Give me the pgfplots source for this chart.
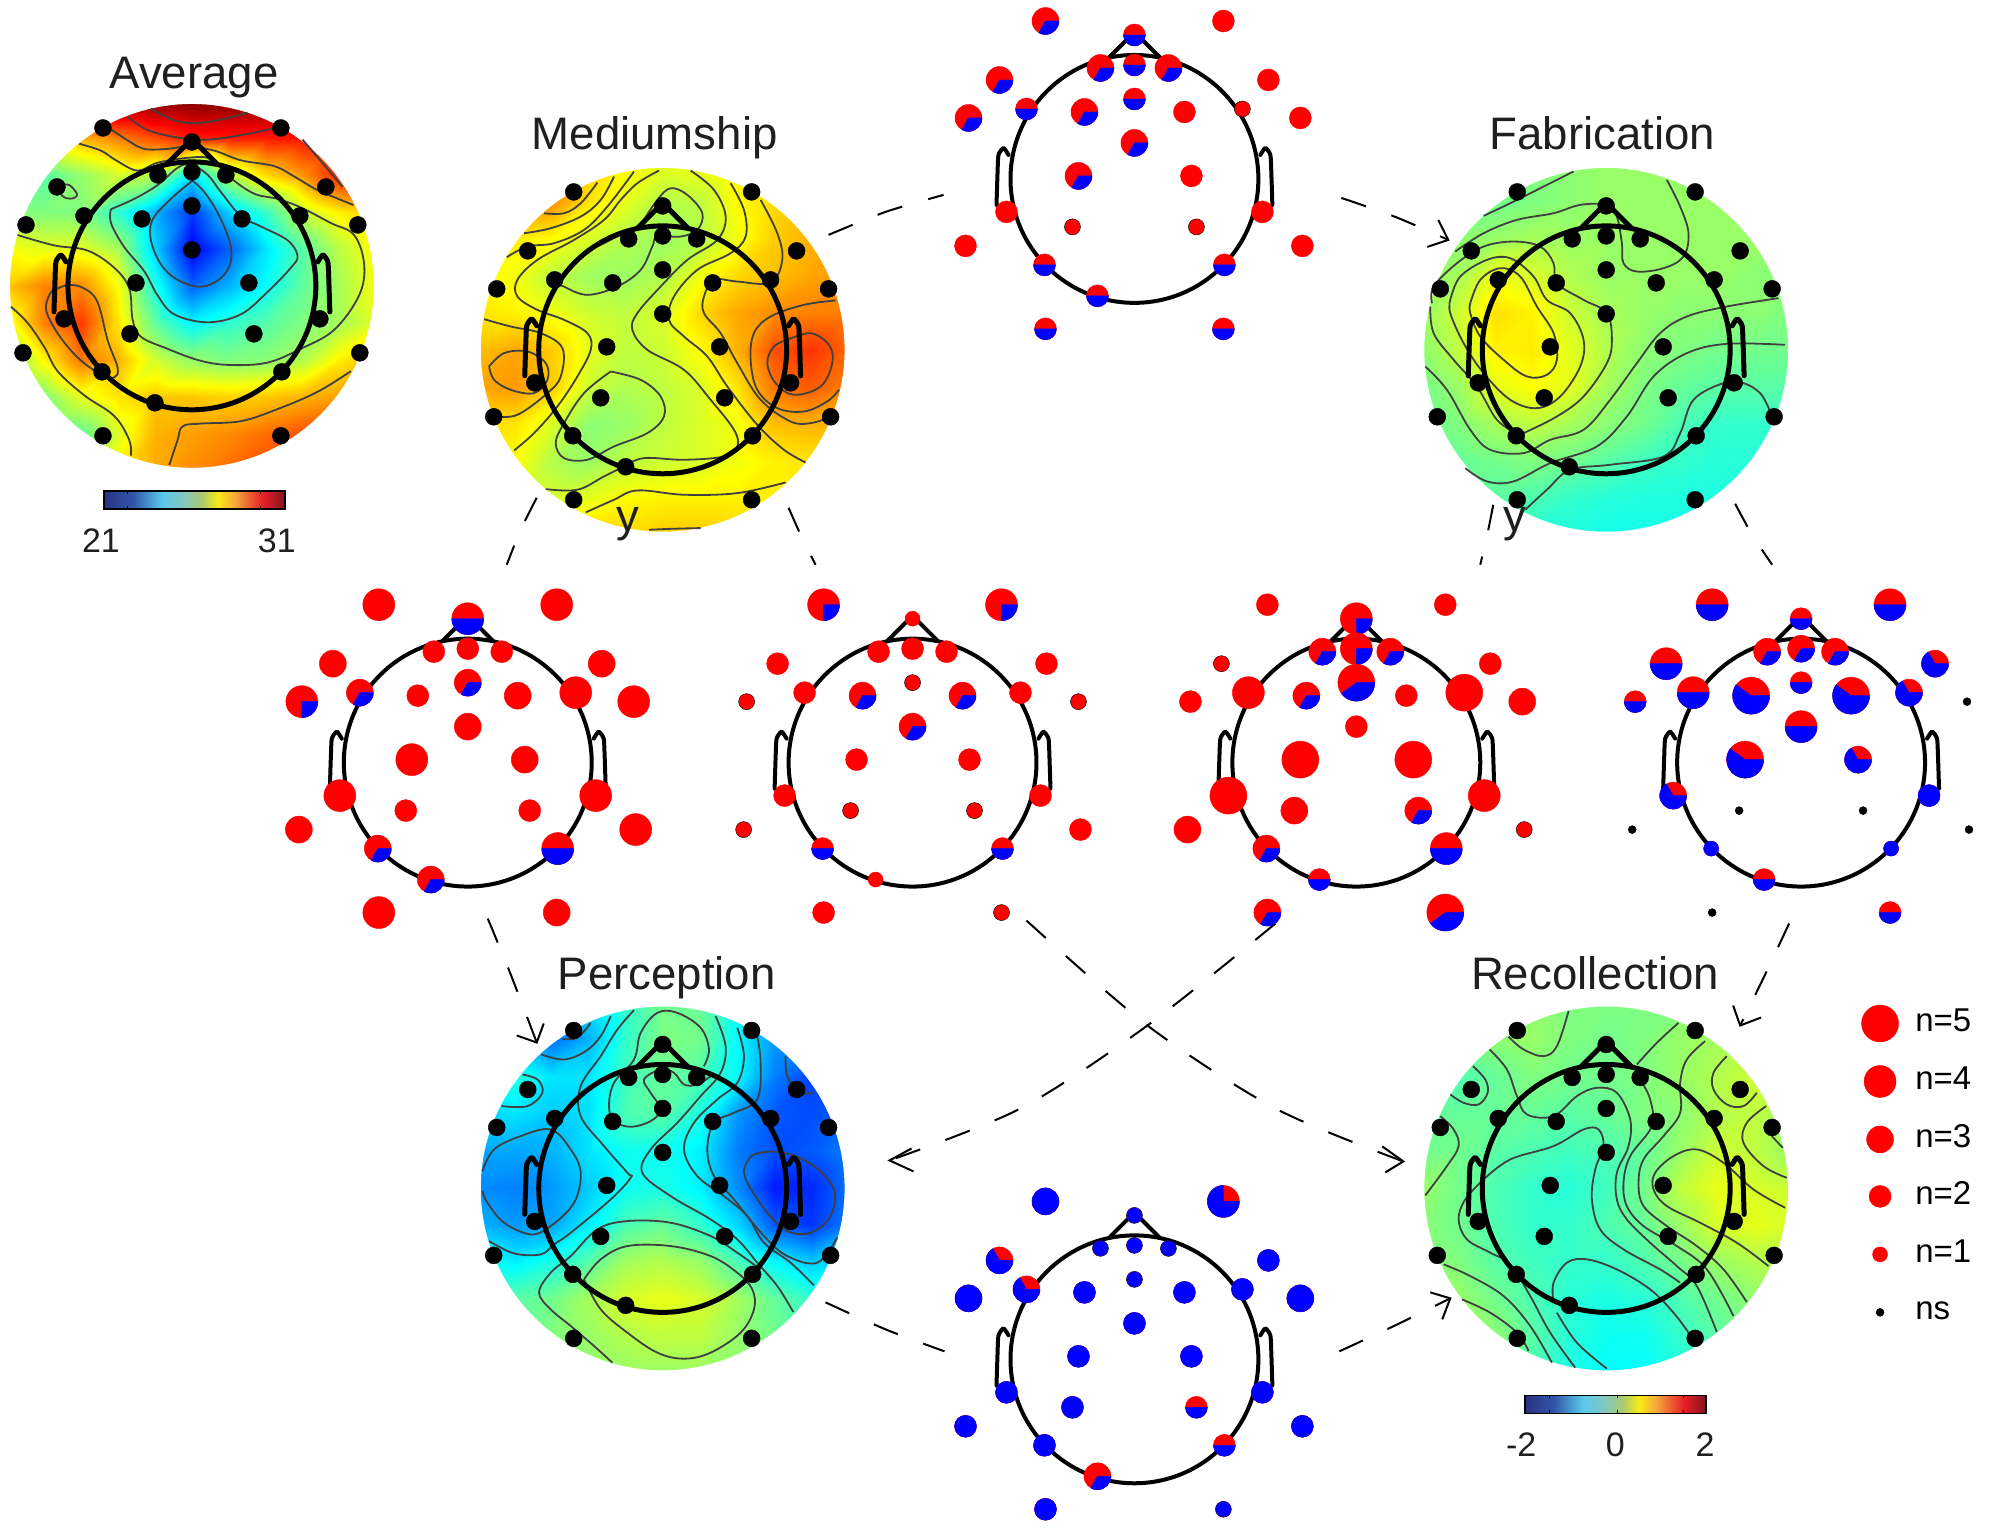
\documentclass[border=0pt]{standalone}
\usepackage{fontspec}
\setmainfont{Liberation Sans}
\usepackage{pgfplots}
\usepackage{pgfplotstable}
\pgfplotsset{compat=1.18}
\pgfplotsset{colormap={cbar}{
  rgb255(0cm)=(40,50,130) rgb255(16cm)=(50,85,170) rgb255(32cm)=(90,200,235)
  rgb255(44cm)=(130,200,190) rgb255(54cm)=(170,200,110) rgb255(63cm)=(250,235,20)
  rgb255(72cm)=(245,170,60) rgb255(81cm)=(235,90,50) rgb255(88cm)=(230,30,40)
  rgb255(100cm)=(130,20,30)}}

% electrode template, then n and blue count for each of the six count heads
% (n=6 is the n=1 size without the thin black ring)
\pgfplotstableread{
dx dy na ba nc bc nd bd ne be nt bt nb bb
-89 -158 4 0 4 1 2 0 4 2 3 1 3 3
89 -158 4 0 4 1 2 0 4 2 2 0 4 3
0 -144 4 2 6 0 4 1 2 1 2 1 1 1
-34 -111 2 0 2 0 3 1 3 1 3 1 1 1
34 -111 2 0 2 0 3 1 3 1 3 1 1 1
0 -114 2 0 2 0 4 1 3 1 2 1 1 1
-135 -99 3 0 2 0 1 0 4 2 3 1 3 2
134 -99 3 0 2 0 2 0 3 2 2 0 2 2
0 -80 3 1 1 0 5 2 2 1 2 1 1 1
-108 -70 3 1 2 0 4 0 4 2 2 1 3 2
108 -70 4 0 2 0 5 0 3 2 1 0 2 2
-50 -67 2 0 3 1 3 1 5 3 3 1 2 2
50 -67 3 0 3 1 2 0 5 3 2 0 2 2
-166 -61 4 1 1 0 2 0 2 1 3 1 3 3
166 -61 4 0 1 0 3 0 0 0 2 0 3 3
0 -36 3 0 3 1 2 0 4 2 3 1 2 2
-56 -3 4 0 2 0 5 0 5 3 3 1 2 2
57 -3 3 0 2 0 5 0 3 2 2 0 2 2
-128 33 4 0 2 0 5 0 3 2 2 0 2 2
128 33 4 0 2 0 4 0 2 2 2 0 2 2
-62 48 2 0 1 0 3 0 0 0 1 0 2 2
62 48 2 0 1 0 3 1 0 0 1 0 2 1
-169 67 3 0 1 0 3 0 0 0 2 0 2 2
168 67 4 0 2 0 1 0 0 0 2 0 2 2
-90 86 3 1 2 1 3 1 6 6 2 1 2 2
90 86 4 2 2 1 4 2 6 6 2 1 2 1
-37 117 3 1 6 0 2 1 2 1 2 1 3 1
-89 150 4 0 2 0 3 1 0 0 2 1 2 2
89 150 3 0 1 0 5 2 2 1 2 1 1 1
}\electrodes

% topographies, 11 x 11 grid read row by row from the top
\pgfplotstableread[row sep=\\]{z\\
30\\30.5\\30.8\\31\\31\\31\\31\\31\\30.7\\30.3\\30\\
27\\27\\28\\28.5\\29\\29.5\\29.5\\29.5\\29.6\\29.8\\30\\
25.8\\25.6\\26.2\\26.8\\26.5\\24.5\\26.5\\27.6\\28.3\\29.5\\30\\
26.1\\26\\26\\25.2\\24\\22.8\\24.3\\25.3\\26.7\\27.4\\27.8\\
27.2\\27\\27\\26.4\\24.3\\22.2\\23.2\\24.5\\25.6\\26.6\\27.3\\
27.8\\28.5\\28.4\\27.2\\25\\23.2\\24\\24.8\\25.7\\26.4\\27.2\\
27\\28.5\\29.2\\27.5\\25.7\\24.7\\25.2\\25.6\\26\\26.4\\27\\
25.8\\27.3\\28.6\\28\\26.8\\26.2\\26\\26.1\\26.5\\27.4\\28\\
25.4\\26\\27\\27.5\\27.8\\27.8\\27.7\\27.8\\28\\28.2\\28.8\\
25.2\\25.4\\25.7\\26.9\\28\\28.2\\28.4\\28.7\\29\\29.3\\29.6\\
25.2\\25.5\\26.2\\27.4\\28.1\\28.4\\28.7\\29\\29.3\\29.6\\29.8\\
}\mapavg
\pgfplotstableread[row sep=\\]{z\\
.6\\.7\\.85\\.7\\.5\\.4\\.45\\.55\\.6\\.65\\.65\\
.6\\.75\\.95\\.6\\.4\\.2\\.25\\.5\\.65\\.75\\.75\\
.45\\.55\\.5\\.35\\.2\\.12\\.2\\.45\\.7\\.8\\.85\\
.55\\.45\\.25\\.12\\.12\\.2\\.45\\.65\\.75\\.85\\.9\\
.6\\.55\\.45\\.3\\.25\\.35\\.65\\.85\\.95\\1\\1\\
.75\\.85\\.7\\.4\\.25\\.3\\.5\\.8\\1.2\\1.3\\1.1\\
.85\\.9\\.7\\.3\\.2\\.25\\.35\\.6\\1.05\\1.15\\1\\
.6\\.6\\.35\\.05\\.1\\.25\\.35\\.45\\.75\\.8\\.75\\
.55\\.5\\.2\\.1\\.25\\.3\\.35\\.45\\.55\\.6\\.6\\
.55\\.45\\.35\\.4\\.5\\.55\\.55\\.55\\.55\\.55\\.55\\
.55\\.6\\.6\\.65\\.65\\.7\\.7\\.65\\.6\\.6\\.55\\
}\mapmed
\pgfplotstableread[row sep=\\]{z\\
-.05\\-.05\\-.05\\0\\.05\\.1\\.1\\.1\\.1\\.1\\.1\\
-.05\\-.05\\-.05\\0\\.05\\.1\\.1\\.1\\.1\\.1\\.1\\
0\\.05\\.1\\.15\\.1\\.1\\.1\\.1\\.1\\.1\\.05\\
.05\\.15\\.45\\.35\\.2\\.1\\.1\\.1\\.1\\.05\\.05\\
.1\\.3\\.62\\.55\\.3\\.15\\.1\\.05\\.05\\.05\\0\\
.05\\.25\\.55\\.58\\.4\\.2\\.05\\0\\-.05\\-.05\\-.05\\
-.05\\.1\\.4\\.5\\.4\\.15\\0\\-.1\\-.15\\-.15\\-.15\\
-.1\\0\\.15\\.25\\.15\\.05\\-.05\\-.2\\-.3\\-.3\\-.3\\
-.1\\-.1\\-.05\\0\\-.05\\-.15\\-.25\\-.3\\-.35\\-.35\\-.35\\
-.15\\-.15\\-.15\\-.2\\-.3\\-.35\\-.38\\-.38\\-.38\\-.38\\-.35\\
-.2\\-.2\\-.3\\-.35\\-.38\\-.42\\-.42\\-.42\\-.42\\-.4\\-.35\\
}\mapfab
\pgfplotstableread[row sep=\\]{z\\
-.7\\-.8\\-.9\\-.6\\-.3\\-.05\\-.1\\-.5\\-.8\\-.8\\-.8\\
-.7\\-.8\\-1.05\\-.8\\-.3\\0\\-.05\\-.5\\-.9\\-1\\-1.1\\
-.5\\-.35\\-.6\\-.6\\-.25\\-.1\\-.2\\-.5\\-1\\-1.25\\-1.2\\
-.7\\-.6\\-.7\\-.6\\-.2\\-.15\\-.4\\-.9\\-1.15\\-1.2\\-1.1\\
-.85\\-.85\\-.8\\-.6\\-.45\\-.45\\-.55\\-1\\-1.2\\-1.15\\-1\\
-.95\\-1\\-.9\\-.7\\-.45\\-.4\\-.55\\-.95\\-1.4\\-1.35\\-1.05\\
-.8\\-.9\\-.85\\-.55\\-.2\\-.1\\-.3\\-.65\\-1.15\\-1.3\\-1\\
-.4\\-.55\\-.4\\-.15\\.15\\.2\\.1\\-.2\\-.5\\-.7\\-.6\\
-.1\\-.15\\-.05\\.15\\.35\\.42\\.35\\.15\\-.1\\-.3\\-.3\\
-.1\\-.1\\0\\.1\\.2\\.25\\.25\\.1\\-.05\\-.2\\-.2\\
-.1\\-.1\\-.05\\.05\\.1\\.1\\.1\\.05\\-.05\\-.15\\-.2\\
}\mapper
\pgfplotstableread[row sep=\\]{z\\
.05\\.05\\.05\\.05\\0\\0\\0\\0\\.05\\.1\\.1\\
0\\0\\.05\\.1\\0\\-.05\\0\\.1\\.15\\.2\\.2\\
-.15\\-.2\\-.1\\0\\-.05\\-.05\\0\\.1\\.2\\.3\\.25\\
-.1\\-.1\\-.1\\-.1\\-.15\\-.1\\0\\.05\\.2\\.25\\.1\\
-.05\\-.05\\-.15\\-.2\\-.25\\-.2\\-.1\\.1\\.3\\.25\\.1\\
.1\\-.05\\-.2\\-.3\\-.35\\-.25\\-.05\\.25\\.42\\.35\\.3\\
.05\\-.05\\-.2\\-.3\\-.3\\-.2\\-.1\\.1\\.35\\.4\\.35\\
.05\\0\\-.15\\-.25\\-.3\\-.3\\-.2\\-.05\\.1\\.2\\.25\\
.2\\.1\\-.05\\-.2\\-.35\\-.4\\-.35\\-.2\\-.05\\.05\\.1\\
.25\\.2\\.05\\-.15\\-.35\\-.45\\-.45\\-.3\\-.15\\0\\.05\\
.25\\.2\\.05\\-.2\\-.4\\-.5\\-.5\\-.4\\-.2\\-.05\\0\\
}\maprec

% pie mark: red disc with a blue sector running clockwise from east
\pgfdeclareplotmark{pie}{%
  \pgfmathtruncatemacro\pnn{\pn}\pgfmathtruncatemacro\pbb{\pb}%
  \ifcase\pnn\relax\def\prr{4}\or\def\prr{7.5}\or\def\prr{11}\or\def\prr{13.5}\or\def\prr{16}\or\def\prr{18.5}\or\def\prr{7.5}\fi
  \ifnum\pnn=0 \fill[black] (canvas cs:x=0pt,y=0pt) circle (4pt);\else
    \ifnum\pnn=1 \fill[black] (canvas cs:x=0pt,y=0pt) circle (8pt);\fi
    \fill[red] (canvas cs:x=0pt,y=0pt) circle (\prr pt);
    \ifnum\pbb=\pnn \fill[blue] (canvas cs:x=0pt,y=0pt) circle (\prr pt);\else\ifnum\pbb>0
      \pgfmathsetmacro\pang{-360*\pbb/\pnn}%
      \fill[blue] (canvas cs:x=0pt,y=0pt) -- (canvas cs:x=\prr pt,y=0pt)
        arc[start angle=0,end angle=\pang,radius=\prr pt] -- cycle;\fi\fi
  \fi}

\pgfplotsset{
  cline/.style={line width=1.8pt,color=black!75,smooth,tension=.6,forget plot},
  arrowl/.style={line width=2pt,black,dash pattern=on 26pt off 27pt,smooth,tension=.5,forget plot},
  headl/.style={line width=2pt,black,line cap=round,line join=round,forget plot},
  crop/.style 2 args={x filter/.expression={x/3+#1},y filter/.expression={y/3+#2}},
  cropa/.style={x filter/.expression={x/3},y filter/.expression={y/2.9+30}},
}

\newcommand\headoutline[4]{%
  \draw[line width=#4,black] (axis cs:#1,#2) ellipse [x radius=124pt,y radius=#3*124pt];
  \addplot[headl,line width=#4,x filter/.expression={x+#1},y filter/.expression={y*#3+#2}]
    coordinates {(-25,-122) (0,-147) (25,-122)};
  \addplot[headl,line width=#4,smooth,tension=.35,x filter/.expression={x+#1},y filter/.expression={y*#3+#2}]
    coordinates {(-138,26) (-137,-5) (-136,-24) (-131,-31) (-126,-24)};
  \addplot[headl,line width=#4,smooth,tension=.35,x filter/.expression={x+#1},y filter/.expression={y*#3+#2}]
    coordinates {(138,26) (137,-5) (136,-24) (131,-31) (126,-24)};
}
\newcommand\piehead[4]{%
  \headoutline{#1}{#2}{1}{4pt}
  \addplot[scatter,only marks,mark=pie,forget plot,point meta={0},
    scatter/@pre marker code/.code={\scope},scatter/@post marker code/.code={\endscope},
    visualization depends on={\thisrow{#3}\as\pn},
    visualization depends on={\thisrow{#4}\as\pb}]
    table[x expr=\thisrow{dx}+#1,y expr=\thisrow{dy}+#2]{\electrodes};
}
% #1 #2 centre, #3 y scale, #4 disc y radius, #5 table, #6 colour position of z
\newcommand\topomap[6]{%
  \addplot[surf,shader=interp,mesh/rows=11,forget plot,point meta={#6}]
    table[x index=0,y index=0,x expr={mod(\coordindex,11)*37-185+#1},
          y expr={(floor(\coordindex/11)*37-185)*#3+#2}]{#5};
  \fill[white,even odd rule] (axis cs:#1-192,#2-192) rectangle (axis cs:#1+192,#2+192)
    (axis cs:#1,#2) ellipse [x radius=182pt,y radius=#4pt];
}
\newcommand\mapdots[3]{%
  \addplot[only marks,mark=*,mark size=8.5pt,black,forget plot]
    table[x expr=\thisrow{dx}+#1,y expr=\thisrow{dy}*#3+#2]{\electrodes};
}
\newcommand\ttl[3]{\node[anchor=base,text=black!88,font=\fontsize{45.6}{50}\selectfont] at (axis cs:#1,#2) {#3};}
\newcommand\keyt[2]{\node[anchor=base west,inner sep=0pt,font=\fontsize{33}{36}\selectfont] at (axis cs:1915,#1) {#2};}

\begin{document}
\begin{tikzpicture}
\begin{axis}[scale only axis,width=1989pt,height=1535pt,
  xmin=0,xmax=1989,ymin=0,ymax=1535,y dir=reverse,hide axis,clip=false,
  colormap/jet,point meta min=0,point meta max=1]
\path (axis cs:0,0) rectangle (axis cs:1989,1535);

\topomap{191}{286}{1}{182}{\mapavg}{(\thisrow{z}-21)/10}
\topomap{662}{350}{1}{182}{\mapmed}{(\thisrow{z}+2)/4}
\topomap{1606}{350}{1}{182}{\mapfab}{(\thisrow{z}+2)/4}
\topomap{662}{1189}{1}{182}{\mapper}{(\thisrow{z}+2)/4}
\topomap{1606}{1189}{1}{182}{\maprec}{(\thisrow{z}+2)/4}

% contours of Average
\addplot[cline,cropa] coordinates {(450,228)(520,262)(585,270)(660,260)(740,240)};
\addplot[cline,cropa] coordinates {(380,252)(440,290)(530,312)(620,318)(720,305)(820,285)};
\addplot[cline,cropa] coordinates {(330,288)(380,320)(430,345)(500,345)(560,338)(640,350)(720,378)(820,395)(880,425)(950,465)(1000,485)(1058,508)};
\addplot[cline,cropa] coordinates {(905,318)(960,380)(1025,455)};
\addplot[cline,cropa] coordinates {(235,330)(300,350)(345,378)(410,408)(470,385)(570,370)(630,375)(690,430)(760,475)(830,490)(900,515)(990,560)(1060,595)(1090,680)(1075,770)(1000,870)(900,925)(800,965)(690,972)(600,960)(500,925)(420,890)(395,840)(385,750)(340,690)(260,640)(160,625)(50,595)};
\addplot[cline,cropa] coordinates {(330,520)(400,490)(470,450)(530,400)(570,390)(620,420)(660,470)(720,540)(780,570)(860,610)(890,655)(870,690)(800,760)(720,825)(620,848)(520,825)(470,770)(430,700)(370,630)(330,560)(330,520)};
\addplot[cline,cropa] coordinates {(575,437)(610,470)(650,530)(685,610)(690,670)(660,720)(600,745)(530,725)(480,680)(450,610)(455,550)(510,490)(575,437)};
\addplot[cline,cropa] coordinates {(180,450)(205,450)(228,475)(220,487)(195,488)(175,470)(180,450)};
\addplot[cline,cropa] coordinates {(150,760)(200,740)(250,750)(290,790)(320,900)(350,980)(340,1008)(300,1000)(230,950)(170,880)(135,810)(150,760)};
\addplot[cline,cropa] coordinates {(30,803)(80,850)(130,920)(170,990)(250,1060)(340,1120)(385,1190)(390,1235)};
\addplot[cline,cropa] coordinates {(505,1262)(530,1190)(545,1150)(600,1142)(720,1135)(830,1100)(950,1050)(1050,990)};

% contours of Mediumship
\addplot[cline,crop={470}{100}] coordinates {(220,340)(280,340)(330,310)(380,248)};
\addplot[cline,crop={470}{100}] coordinates {(160,400)(240,385)(330,350)(390,300)(430,230)};
\addplot[cline,crop={470}{100}] coordinates {(108,472)(170,440)(250,430)(340,390)(410,320)(490,215)};
\addplot[cline,crop={470}{100}] coordinates {(565,212)(500,250)(450,300)(400,360)(310,420)(200,480)(140,540)(140,590)(200,630)(280,660)(350,700)(360,750)(320,830)(260,920)(190,1000)(130,1052)};
\addplot[cline,crop={470}{100}] coordinates {(510,375)(560,300)(600,265)(650,285)(695,340)(680,390)(630,410)(560,410)(545,440)(510,510)(440,560)(350,585)(280,560)(270,545)(330,470)(410,425)(470,395)(510,375)};
\addplot[cline,crop={470}{100}] coordinates {(660,212)(730,270)(765,350)(740,420)(650,480)(570,560)(500,640)(485,690)(530,750)(640,810)(720,900)(790,990)(800,1040)(760,1070)(640,1080)(520,1075)(460,1100)};
\addplot[cline,crop={470}{100}] coordinates {(780,250)(820,330)(825,410)(780,460)(680,510)(610,590)(595,660)(640,710)(710,770)(770,860)(860,975)(940,1050)(1005,1088)};
\addplot[cline,crop={470}{100}] coordinates {(870,300)(920,400)(935,480)(900,548)(800,545)(730,540)(700,590)(700,640)(750,700)(800,790)(870,900)(960,965)(1020,970)(1085,950)};
\addplot[cline,crop={470}{100}] coordinates {(1095,602)(1000,615)(900,650)(850,700)(840,780)(860,870)(920,925)(1000,935)(1070,905)(1105,870)};
\addplot[cline,crop={470}{100}] coordinates {(950,720)(1020,700)(1075,735)(1085,790)(1050,860)(970,885)(915,850)(890,790)(910,740)(950,720)};
\addplot[cline,crop={470}{100}] coordinates {(40,658)(120,680)(210,700)(275,745)(270,830)(230,880)(140,945)(70,950)};
\addplot[cline,crop={470}{100}] coordinates {(55,800)(100,760)(170,755)(225,790)(230,840)(190,880)(120,870)(70,840)(55,800)};
\addplot[cline,crop={470}{100}] coordinates {(420,815)(510,840)(570,890)(580,950)(530,1000)(430,1040)(350,1080)(280,1075)(255,1030)(280,970)(340,880)(420,815)};
\addplot[cline,crop={470}{100}] coordinates {(225,1168)(320,1170)(400,1130)(460,1100)};
\addplot[cline,crop={470}{100}] coordinates {(345,1238)(430,1200)(500,1172)(640,1185)(800,1180)(945,1148)};
\addplot[cline,crop={470}{100}] coordinates {(535,1290)(610,1287)(690,1285)};

% contours of Fabrication
\addplot[cline,crop={1410}{100}] coordinates {(220,348)(300,310)(400,260)(490,215)};
\addplot[cline,crop={1410}{100}] coordinates {(135,455)(220,400)(320,360)(430,340)(510,315)(590,315)(620,350)(635,430)(640,490)(680,515)(760,505)(820,470)(835,400)(810,320)(770,240)};
\addplot[cline,crop={1410}{100}] coordinates {(65,610)(70,560)(140,490)(220,440)(310,425)(390,440)(430,490)(440,550)(520,600)(590,640)(605,720)(590,790)(520,890)(440,950)(340,1000)};
\addplot[cline,crop={1410}{100}] coordinates {(120,600)(150,530)(230,480)(300,475)(370,530)(410,600)(480,640)(520,720)(510,800)(450,890)(380,925)(300,900)(220,820)(160,730)(120,640)(120,600)};
\addplot[cline,crop={1410}{100}] coordinates {(180,610)(210,540)(270,505)(330,530)(380,620)(430,700)(440,780)(410,825)(350,830)(280,780)(210,710)(180,640)(180,610)};
\addplot[cline,crop={1410}{100}] coordinates {(60,620)(70,700)(130,780)(200,860)(260,960)(320,1000)};
\addplot[cline,crop={1410}{100}] coordinates {(45,800)(110,870)(180,990)(240,1050)(340,1060)(420,1020)(520,990)(600,900)(680,790)(750,700)(830,650)(950,620)(1105,595)};
\addplot[cline,crop={1410}{100}] coordinates {(165,1105)(230,1145)(310,1145)(420,1090)(560,1040)(650,950)(730,830)(830,760)(950,732)(1125,735)};
\addplot[cline,crop={1410}{100}] coordinates {(345,1230)(410,1170)(480,1110)(600,1095)(760,1070)(810,1000)(850,900)(940,850)(1000,850)(1050,880)(1078,930)};

% contours of Perception
\addplot[cline,crop={470}{950}] coordinates {(275,268)(320,265)(360,220)};
\addplot[cline,crop={470}{950}] coordinates {(212,315)(280,330)(345,305)(390,260)(420,200)};
\addplot[cline,crop={470}{950}] coordinates {(92,470)(170,470)(215,430)(200,390)(155,375)};
\addplot[cline,crop={470}{950}] coordinates {(490,182)(440,240)(390,320)(330,410)(330,500)(400,590)(470,670)(480,685)(420,750)(300,850)(250,885)(210,915)(130,912)(55,875)};
\addplot[cline,crop={470}{950}] coordinates {(700,350)(715,300)(690,235)(620,190)(560,190)(510,250)(490,330)(430,400)(415,470)(430,515)(480,532)(540,515)(570,480)(540,430)(520,390)(570,360)(610,370)(640,405)(680,405)(720,380)};
\addplot[cline,crop={470}{950}] coordinates {(735,200)(765,290)(750,370)(690,440)(620,520)(540,600)(515,670)(600,740)(720,810)(800,870)(860,940)(920,1010)(968,1088)};
\addplot[cline,crop={470}{950}] coordinates {(800,235)(820,320)(800,400)(740,450)(670,520)(640,600)(680,680)(760,740)(830,800)(880,880)(960,940)(1030,1008)};
\addplot[cline,crop={470}{950}] coordinates {(860,260)(870,340)(860,450)(790,490)(730,520)(710,600)(730,680)(790,750)(880,860)(950,920)(1040,940)(1100,865)};
\addplot[cline,crop={470}{950}] coordinates {(820,660)(850,615)(940,610)(1030,650)(1090,720)(1080,800)(1020,850)(950,845)(890,790)(830,700)(820,660)};
\addplot[cline,crop={470}{950}] coordinates {(945,320)(950,380)(985,430)(1030,428)};
\addplot[cline,crop={470}{950}] coordinates {(35,665)(70,600)(150,560)(240,540)(300,600)(330,670)(310,760)(240,830)(180,855)(100,820)(50,760)(35,725)};
\addplot[cline,crop={470}{950}] coordinates {(870,960)(800,910)(720,860)(600,820)(470,815)(380,840)(300,920)(240,970)(205,1030)(240,1080)(300,1130)(370,1190)(425,1240)};
\addplot[cline,crop={470}{950}] coordinates {(340,990)(390,930)(470,890)(600,890)(720,920)(800,970)(845,1020)(850,1080)(810,1150)(720,1210)(640,1228)(560,1210)(470,1150)(390,1080)(340,990)};

% contours of Recollection
\addplot[cline,crop={1410}{950}] coordinates {(295,262)(340,300)(400,320)(440,290)(475,185)};
\addplot[cline,crop={1410}{950}] coordinates {(188,350)(225,390)(232,430)(205,465)(160,460)(120,435)};
\addplot[cline,crop={1410}{950}] coordinates {(90,500)(130,540)(145,590)(110,650)(45,738)};
\addplot[cline,crop={1410}{950}] coordinates {(238,300)(290,360)(320,440)(350,495)(430,500)(500,440)(560,415)(620,430)(660,510)(655,590)(620,670)(620,750)(650,810)(720,880)(800,950)(860,1010)(920,1148)};
\addplot[cline,crop={1410}{950}] coordinates {(220,690)(300,630)(430,590)(520,540)(565,540)(580,590)(555,660)(545,750)(570,840)(640,900)(750,960)(810,1000)};
\addplot[cline,crop={1410}{950}] coordinates {(690,390)(720,450)(725,530)(660,620)(640,700)(650,770)(700,830)(800,890)(890,960)(970,1100)};
\addplot[cline,crop={1410}{950}] coordinates {(680,345)(740,280)(805,220)};
\addplot[cline,crop={1410}{950}] coordinates {(885,275)(830,330)(810,400)(810,490)(760,560)(700,630)(685,700)(700,770)(770,830)(860,890)(940,960)(1010,1058)};
\addplot[cline,crop={1410}{950}] coordinates {(1075,950)(980,880)(870,820)(770,770)(730,720)(735,670)(790,620)(860,600)(940,640)(1030,720)(1125,775)};
\addplot[cline,crop={1410}{950}] coordinates {(950,320)(910,370)(910,420)(950,465)(1000,470)(1040,430)};
\addplot[cline,crop={1410}{950}] coordinates {(1068,470)(1010,520)(1000,580)(1060,650)(1130,685)};
\addplot[cline,crop={1410}{950}] coordinates {(1085,560)(1118,595)};
\addplot[cline,crop={1410}{950}] coordinates {(430,1060)(430,1000)(470,940)(530,930)(620,960)(720,1020)(790,1090)(835,1150)};
\addplot[cline,crop={1410}{950}] coordinates {(220,690)(165,750)(145,810)(170,870)(240,910)(300,945)(360,1040)(420,1150)(495,1255)};
\addplot[cline,crop={1410}{950}] coordinates {(100,945)(180,980)(280,1040)(360,1130)(425,1240)};
\addplot[cline,crop={1410}{950}] coordinates {(155,1050)(240,1090)(320,1150)(355,1205)};
\addplot[cline,crop={1410}{950}] coordinates {(440,1090)(500,1180)(590,1258)};

% heads over the maps
\headoutline{191}{286}{1}{5pt}\mapdots{191}{286}{1}
\headoutline{662}{350}{1}{5pt}\mapdots{662}{350}{1}
\headoutline{1606}{350}{1}{5pt}\mapdots{1606}{350}{1}
\headoutline{662}{1189}{1}{5pt}\mapdots{662}{1189}{1}
\headoutline{1606}{1189}{1}{5pt}\mapdots{1606}{1189}{1}

% count heads
\piehead{1134}{179}{nt}{bt}
\piehead{1134}{1360}{nb}{bb}
\piehead{467}{763}{na}{ba}
\piehead{912}{763}{nc}{bc}
\piehead{1356}{763}{nd}{bd}
\piehead{1801}{763}{ne}{be}

% dashed links
\addplot[arrowl] coordinates {(828,235)(885,212)(943,195)};
\addplot[arrowl] coordinates {(1341,198)(1395,217)(1448,240)};
\addplot[arrowl] coordinates {(536,498)(520,530)(506,565)};
\addplot[arrowl] coordinates {(788,508)(800,535)(815,565)};
\addplot[arrowl] coordinates {(1493,505)(1487,535)(1480,565)};
\addplot[arrowl] coordinates {(1735,504)(1752,535)(1772,565)};
\addplot[arrowl] coordinates {(487,919)(510,975)(536,1043)};
\addplot[arrowl] coordinates {(1026,921)(1147,1026)(1275,1109)(1403,1162)};
\addplot[arrowl] coordinates {(1275,924)(1147,1026)(1020,1109)(889,1161)};
\addplot[arrowl] coordinates {(1789,924)(1765,975)(1740,1026)};
\addplot[arrowl] coordinates {(825,1303)(885,1330)(944,1352)};
\addplot[arrowl] coordinates {(1339,1352)(1395,1326)(1450,1299)};
% open arrow heads
\addplot[line width=2pt,black,forget plot] coordinates {(1438,220)(1448,240)(1427,247)};
\addplot[line width=2pt,black,forget plot] coordinates {(516,1036)(536,1043)(543,1024)};
\addplot[line width=2pt,black,forget plot] coordinates {(1382,1147)(1403,1162)(1385,1173)};
\addplot[line width=2pt,black,forget plot] coordinates {(911,1149)(889,1161)(913,1172)};
\addplot[line width=2pt,black,forget plot] coordinates {(1733,1006)(1740,1026)(1761,1018)};
\addplot[line width=2pt,black,forget plot] coordinates {(1430,1293)(1450,1299)(1442,1320)};

% colour bars
\addplot[surf,shader=interp,mesh/rows=2,colormap name=cbar,forget plot,point meta={(\thisrow{v}-21)/10}]
  table {
x y v
103 491 21
284 491 31
103 509 21
284 509 31
};
\addplot[surf,shader=interp,mesh/rows=2,colormap name=cbar,forget plot,point meta={(\thisrow{v}+2)/4}]
  table {
x y v
1525 1396 -2
1706 1396 2
1525 1414 -2
1706 1414 2
};
\draw[line width=1.6pt,black] (axis cs:103,491) rectangle (axis cs:284,509);
\draw[line width=1.6pt,black] (axis cs:1525,1396) rectangle (axis cs:1706,1414);
\draw[line width=1pt,black] (axis cs:127,491)--(axis cs:127,494) (axis cs:127,506)--(axis cs:127,509)
  (axis cs:260,491)--(axis cs:260,494) (axis cs:260,506)--(axis cs:260,509)
  (axis cs:1549,1396)--(axis cs:1549,1399) (axis cs:1549,1411)--(axis cs:1549,1414)
  (axis cs:1617,1396)--(axis cs:1617,1399) (axis cs:1617,1411)--(axis cs:1617,1414)
  (axis cs:1683,1396)--(axis cs:1683,1399) (axis cs:1683,1411)--(axis cs:1683,1414);

% titles and labels
\ttl{193}{89}{Average}
\ttl{654}{150}{Mediumship}
\ttl{1602}{150}{Fabrication}
\ttl{666}{990}{Perception}
\ttl{1595}{990}{Recollection}
\ttl{627}{532}{y}
\ttl{1515}{532}{y}
\node[anchor=base,font=\fontsize{34}{36}\selectfont,text=black!88] at (axis cs:100,553) {21};
\node[anchor=base,font=\fontsize{34}{36}\selectfont,text=black!88] at (axis cs:276,553) {31};
\node[anchor=base,font=\fontsize{34}{36}\selectfont,text=black!88] at (axis cs:1521,1457) {-2};
\node[anchor=base,font=\fontsize{34}{36}\selectfont,text=black!88] at (axis cs:1615,1457) {0};
\node[anchor=base,font=\fontsize{34}{36}\selectfont,text=black!88] at (axis cs:1705,1457) {2};

% size key
\addplot[scatter,only marks,mark=pie,forget plot,point meta={0},
  scatter/@pre marker code/.code={\scope},scatter/@post marker code/.code={\endscope},
  visualization depends on={\thisrow{n}\as\pn},
  visualization depends on={\thisrow{b}\as\pb}]
  table {
x y n b
1880 1024 5 0
1880 1082 4 0
1880 1140 3 0
1880 1197 2 0
1880 1255 6 0
1880 1313 0 0
};
\keyt{1032}{n=5}
\keyt{1090}{n=4}
\keyt{1148}{n=3}
\keyt{1205}{n=2}
\keyt{1263}{n=1}
\keyt{1320}{ns}
\end{axis}
\end{tikzpicture}
\end{document}
